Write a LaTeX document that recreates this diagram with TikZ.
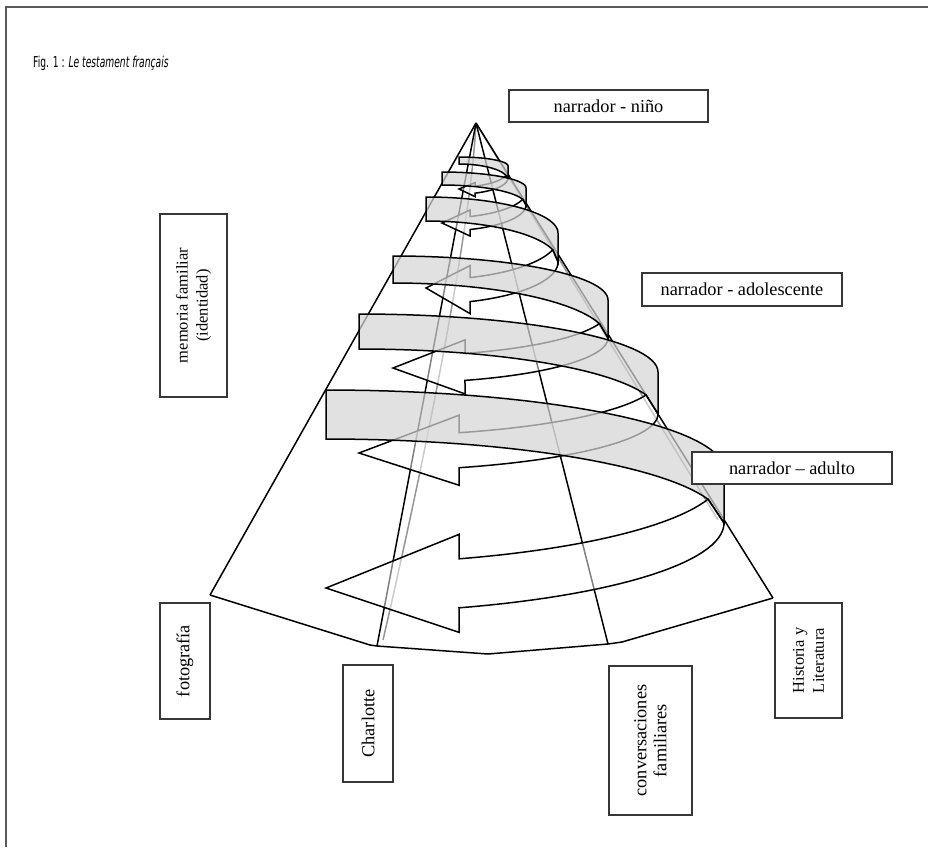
\documentclass[tikz,border=0pt]{standalone}
\usepackage{fontspec}
\setmainfont{Liberation Serif}
\newfontfamily\titlefont[FakeStretch=0.61]{DejaVu Sans}
\definecolor{bandgray}{RGB}{213,213,213}
\definecolor{hidgray}{RGB}{150,150,150}
\definecolor{boxgray}{RGB}{55,55,55}
\definecolor{framegray}{RGB}{90,90,90}
% one turn of the ribbon: left x, wrap x, top y, wrap top y, width, wrap bottom y, front radius, barb x, tip y
\newcommand{\spiralturn}[9]{%
  \pgfmathsetmacro\ra{#2-#1}
  \pgfmathsetmacro\rb{#4-#3}
  \pgfmathsetmacro\fx{#1+0.96*\ra}
  \pgfmathsetmacro\fy{#6-#5+0.28*#7}
  \pgfmathsetmacro\rc{(\fy-#3-#5)/0.72}
  \pgfmathsetmacro\tb{acos((#8-#1)/\ra)}
  \pgfmathsetmacro\ys{#6-#5+#7*sin(\tb)}
  \pgfmathsetmacro\yt{#6+#7*sin(\tb)}
  \pgfmathsetmacro\ee{0.5*#5}
  % inner face
  \draw[band] (#1,#3) -- plot[domain=-90:0, samples=31] ({#1+\ra*cos(\x)},{#4+\rb*sin(\x)})
    -- (#2,#6) -- (\fx,\fy)
    -- plot[domain=0:1, samples=31] ({#1+\ra*cos(-16.26-73.74*\x)},{#3+#5+\rc+\rc*sin(-16.26-73.74*\x)}) -- cycle;
  % outer face with arrow head
  \draw[arrowface] (\fx,\fy)
    -- plot[domain=0:1, samples=31] ({#1+\ra*cos(16.26+(\tb-16.26)*\x)},{#6-#5+#7*sin(16.26+(\tb-16.26)*\x)})
    -- ({#8},{\ys-\ee}) -- (#1,#9) -- ({#8},{\yt+\ee})
    -- plot[domain=0:1, samples=31] ({#1+\ra*cos(\tb*(1-\x))},{#6+#7*sin(\tb*(1-\x))}) -- cycle;
}
\begin{document}
\begin{tikzpicture}[x=1pt, y=-1pt,
  coneline/.style={line width=1.5pt, black},
  hidden/.style={line width=1.5pt, hidgray},
  band/.style={draw=black, line width=1.5pt, fill=bandgray, fill opacity=0.72},
  arrowface/.style={draw=black, line width=1.5pt, fill=white, fill opacity=0.5},
  lbl/.style={draw=boxgray, fill=white, line width=1.5pt, inner sep=0pt, align=center, font=\fontsize{18.3}{20}\selectfont}]
\useasboundingbox (0,0) rectangle (928,847);
% frame
\draw[framegray, line width=1.5pt] (6,847) -- (6,7) -- (928,7);
% title
\node[anchor=base west, inner sep=0pt, font=\titlefont\fontsize{15}{17}\selectfont] (title) at (33,67) {Fig. 1 : \textit{Le testament français}};
% cone
\coordinate (apex) at (476,123);
\coordinate (baseL) at (210,595);
\coordinate (footC) at (377,646);
\coordinate (footV) at (608,644);
\coordinate (baseR) at (773,598);
\draw[hidden] (apex) .. controls (470,240) and (420,480) .. (383,640);
\draw[hidden] (apex) -- (718,520);
\draw[coneline] (apex) -- (baseL);
\draw[coneline] (apex) -- (footC);
\draw[coneline] (apex) -- (footV);
\draw[coneline] (apex) -- (baseR);
\draw[coneline] (baseL) -- (370,645) -- (footC) -- (488,654) -- (footV) -- (622,642) -- (baseR);
% ribbon, top turn first
\spiralturn{459}{508}{157}{166}{7}{178}{16}{475}{189}
\spiralturn{442}{526}{172}{188}{13}{205}{26}{470}{223}
\spiralturn{426}{558}{197}{233}{24}{262}{42}{470}{288}
\spiralturn{393}{608}{256}{300}{27}{338}{45}{465}{368}
\spiralturn{359}{658}{314}{372}{35}{414}{57}{459}{453}
\spiralturn{326}{724}{390}{470}{49}{523}{90}{459}{588}
% narrators
\node[lbl, minimum width=199, minimum height=32] (nino) at (608.5,106) {narrador - niño};
\node[lbl, minimum width=200, minimum height=33] (adol) at (742,289.5) {narrador - adolescente};
\node[lbl, minimum width=200, minimum height=32] (adulto) at (792,468) {narrador – adulto};
% sources
\node[lbl, rotate=90, minimum width=183, minimum height=67, font=\fontsize{16.5}{20}\selectfont] (memoria) at (193.5,305.5) {memoria familiar\\(identidad)};
\node[lbl, rotate=90, minimum width=116, minimum height=50] (foto) at (185,661) {fotografía};
\node[lbl, rotate=90, minimum width=117, minimum height=50] (charlotte) at (368,723.5) {Charlotte};
\node[lbl, rotate=90, minimum width=149, minimum height=83] (conv) at (650.5,740.5) {conversaciones\\familiares};
\node[lbl, rotate=90, minimum width=115, minimum height=67, font=\fontsize{16.5}{20}\selectfont] (hist) at (808.5,660.5) {Historia y\\Literatura};
\end{tikzpicture}
\end{document}
